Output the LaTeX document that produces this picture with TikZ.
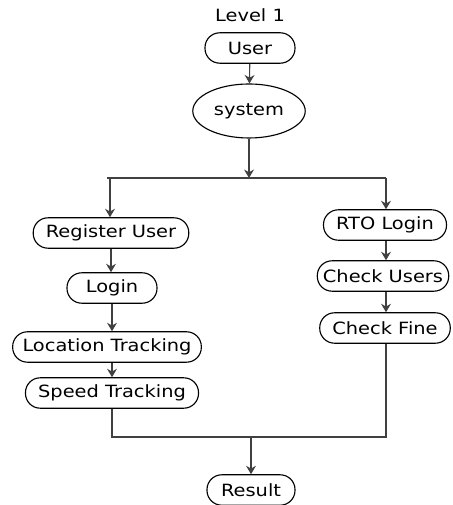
\documentclass[tikz,border=0pt]{standalone}
\usepackage{fontspec}
\setmainfont{DejaVu Sans}[FakeStretch=1.15]
\usetikzlibrary{arrows.meta,shapes.geometric}

\begin{document}
\begin{tikzpicture} [font=\fontsize{12}{14}\selectfont,
		box/.style = {draw = black, line width = .8pt, rounded corners = 10.5pt, minimum height = .76cm, inner xsep = 9pt},
		arr/.style = {-{Stealth[width=7pt, length=6pt]}, line width = .8pt, draw = black!75},
		ln/.style = {line width = .8pt, draw = black!75}]
		\useasboundingbox (0,0) rectangle (11.325, 12.625);
		
		\node (title) at (6.25, 12.25) {Level 1};
		\node [box, minimum width = 2.25cm] (user) at (6.25, 11.425) {User};
		\node [ellipse, draw = black, line width = .8pt, minimum width = 2.675cm, minimum height = 1.35cm] (system) at (6.225, 9.85) {system};
		
		\node [box] (register) at (2.775, 6.8) {Register User};
		\node [box, minimum width = 2.25cm] (login) at (2.8, 5.425) {Login};
		\node [box, inner xsep = 7pt] (location) at (2.675, 3.95) {Location Tracking};
		\node [box] (speed) at (2.8, 2.8) {Speed Tracking};
		
		\node [box] (rto) at (9.625, 7.0) {RTO Login};
		\node [box, inner xsep = 4pt] (users) at (9.575, 5.725) {Check Users};
		\node [box] (fine) at (9.625, 4.425) {Check Fine};
		
		\node [box, minimum width = 2.2cm] (result) at (6.275, 0.375) {Result};
		
		\coordinate (split) at (6.225, 8.175);
		\coordinate (splitL) at (2.75, 8.175);
		\coordinate (splitR) at (9.65, 8.175);
		\coordinate (joinL) at (2.8, 1.7);
		\coordinate (joinR) at (9.65, 1.7);
		\coordinate (join) at (6.275, 1.7);
		
		\draw [arr] (user) -- (system);
		\draw [arr] (system) -- (split);
		\draw [ln] ([xshift=-2pt]splitL) -- (splitR);
		\draw [arr] (splitL) -- (splitL |- register.north);
		\draw [arr] (splitR) -- (splitR |- rto.north);
		
		\draw [arr] (register) -- (register |- login.north);
		\draw [arr] (login) -- (login |- location.north);
		\draw [arr] (location.south -| speed) -- (speed);
		
		\draw [arr] (rto.south -| splitR) -- (splitR |- users.north);
		\draw [arr] (users.south -| splitR) -- (splitR |- fine.north);
		
		\draw [ln] (speed) -- (joinL) -- (joinR) -- (joinR |- fine.south);
		\draw [arr] (join) -- (result);
		
		\end{tikzpicture}
\end{document}
